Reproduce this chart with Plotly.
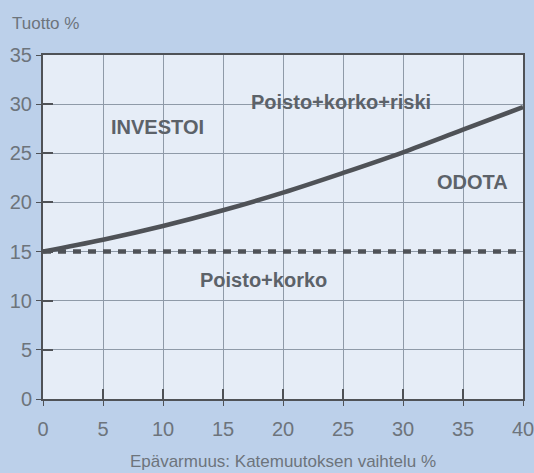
import plotly.graph_objects as go

x_vals = [0, 5, 10, 15, 20, 25, 30, 35, 40]
risk_curve = [15.0, 16.2, 17.6, 19.2, 21.0, 23.0, 25.1, 27.4, 29.7]
base_level = [15, 15, 15, 15, 15, 15, 15, 15, 15]
x_ticks = [0, 5, 10, 15, 20, 25, 30, 35, 40]
y_ticks = [0, 5, 10, 15, 20, 25, 30, 35]

labels = ["INVESTOI", "Poisto+korko+riski", "ODOTA", "Poisto+korko"]
label_x = [9.5, 24.8, 35.8, 18.4]
label_y = [27.7, 30.2, 22.1, 12.1]

TXT = "#5c6269"
LIGHT = "#6d747c"
AX = "#4f5257"
FONT = "Liberation Sans Narrow, Liberation Sans, Arial Narrow, sans-serif"
PLAIN = "Liberation Sans, Arial, sans-serif"

fig = go.Figure()
fig.add_trace(go.Scatter(x=x_vals, y=base_level, mode="lines",
                         line=dict(color=AX, width=4.5, dash="8px,7px"),
                         hoverinfo="skip", showlegend=False))
fig.add_trace(go.Scatter(x=x_vals, y=risk_curve, mode="lines",
                         line=dict(color=AX, width=4.5, shape="spline"),
                         hoverinfo="skip", showlegend=False))

for t, ax, ay in zip(labels, label_x, label_y):
    fig.add_annotation(x=ax, y=ay, text="<b>" + t + "</b>", showarrow=False,
                       font=dict(family=FONT, size=20, color=TXT))

fig.add_annotation(xref="paper", yref="paper", x=-0.069, y=1.092, xanchor="left",
                   yanchor="middle", text="Tuotto %", showarrow=False,
                   font=dict(family=PLAIN, size=17, color=LIGHT))

fig.update_layout(
    width=534, height=473,
    margin=dict(l=43, r=11, t=55, b=74),
    paper_bgcolor="#bcd0ea",
    plot_bgcolor="#e6edf7",
    xaxis=dict(range=[0, 40], tickvals=x_ticks, ticks="outside", ticklen=5,
               tickcolor=AX, showline=True, linecolor=AX, linewidth=2,
               mirror=True, showgrid=True, gridcolor="#8f9aa8", gridwidth=1,
               zeroline=False, automargin=False, ticklabelstandoff=6,
               ticklabeloverflow="allow",
               tickfont=dict(family=PLAIN, size=20, color=LIGHT),
               title=dict(text="Epävarmuus: Katemuutoksen vaihtelu %", standoff=16,
                          font=dict(family=PLAIN, size=17, color=LIGHT))),
    yaxis=dict(range=[0, 35], tickvals=y_ticks, ticks="outside", ticklen=5,
               tickcolor=AX, showline=True, linecolor=AX, linewidth=2,
               mirror=True, showgrid=True, gridcolor="#8f9aa8", gridwidth=1,
               zeroline=False, automargin=False, ticklabelstandoff=0,
               ticklabeloverflow="allow",
               tickfont=dict(family=PLAIN, size=20, color=LIGHT)),
    xaxis2=dict(overlaying="x", side="bottom", range=[0, 40], tickvals=x_ticks,
                ticks="inside", ticklen=10, tickcolor=AX, tickwidth=1.5,
                showticklabels=False, showgrid=False, zeroline=False,
                showline=False, automargin=False),
    yaxis2=dict(overlaying="y", side="left", range=[0, 35], tickvals=y_ticks,
                ticks="inside", ticklen=10, tickcolor=AX, tickwidth=1.5,
                showticklabels=False, showgrid=False, zeroline=False,
                showline=False, automargin=False),
)
fig.add_trace(go.Scatter(x=[None], y=[None], xaxis="x2", yaxis="y2",
                         showlegend=False, hoverinfo="skip"))

fig.write_html("out.html", config={"displayModeBar": False},
               post_script="document.body.style.margin='0';document.body.style.overflow='hidden';")
